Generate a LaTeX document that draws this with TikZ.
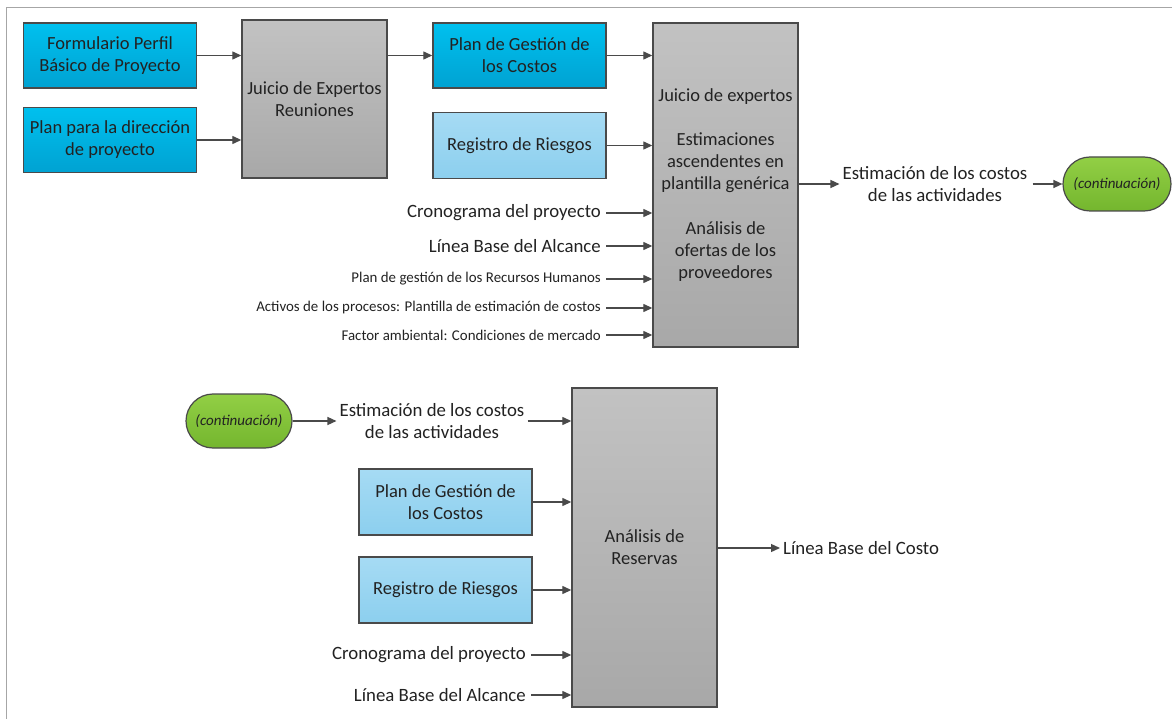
\documentclass[tikz,border=0pt]{standalone}
\usepackage{fontspec}
\setmainfont{Carlito}
\usetikzlibrary{arrows.meta,shapes.misc}

\definecolor{linegray}{HTML}{4A4A4A}
\definecolor{framegray}{HTML}{A6A6A6}
\definecolor{txt}{HTML}{222222}
\definecolor{cyantop}{HTML}{00C0EE}
\definecolor{cyanbot}{HTML}{00A2D2}
\definecolor{skytop}{HTML}{A6DBF4}
\definecolor{skybot}{HTML}{8CCFEE}
\definecolor{graytop}{HTML}{C2C2C2}
\definecolor{graybot}{HTML}{A8A8A8}
\definecolor{greentop}{HTML}{92CF45}
\definecolor{greenbot}{HTML}{74B62E}

\tikzset{
  box/.style={draw=linegray, line width=1.4pt, inner sep=0pt, align=center,
    text=txt, font=\fontsize{18.5}{22}\selectfont},
  cyanbox/.style={box, top color=cyantop, bottom color=cyanbot,
    minimum width=173pt, minimum height=65pt},
  skybox/.style={box, top color=skytop, bottom color=skybot,
    minimum width=173pt, minimum height=66pt},
  graybox/.style={box, top color=graytop, bottom color=graybot},
  contbox/.style={rounded rectangle, draw=linegray, line width=1.2pt,
    top color=greentop, bottom color=greenbot, inner sep=0pt,
    minimum height=54pt, text=txt, font=\fontsize{15}{16}\selectfont\itshape},
  biglabel/.style={anchor=east, inner sep=3pt, text=txt,
    font=\fontsize{18.8}{22}\selectfont},
  smalllabel/.style={anchor=east, inner sep=3pt, text=txt,
    font=\fontsize{14.9}{16}\selectfont},
  outlabel/.style={align=center, inner sep=3pt, text=txt,
    font=\fontsize{18.8}{22}\selectfont},
  arr/.style={draw=linegray, line width=1.3pt,
    -{Triangle[length=9pt,width=8pt]}},
}

\begin{document}
\begin{tikzpicture}[x=1pt,y=-1pt]
\useasboundingbox (0,0) rectangle (1172,719);

% outer frame (top and left edges)
\draw[framegray, line width=1.6pt] (6.5,719) -- (6.5,7.5) -- (1172,7.5);

% ---------- upper process ----------
\node[cyanbox] (form) at (110,55.5) {Formulario Perfil\\Básico de Proyecto};
\node[cyanbox] (plandir) at (110,140) {Plan para la dirección\\de proyecto};
\node[graybox, minimum width=145pt, minimum height=158pt] (juicio) at (314.5,99)
  {Juicio de Expertos\\Reuniones};
\node[cyanbox] (pgc) at (519.5,55.5) {Plan de Gestión de\\los Costos};
\node[skybox] (rr) at (519.5,145.5) {Registro de Riesgos};
\node[graybox, minimum width=145pt, minimum height=324pt,
      font=\fontsize{18.5}{22.3}\selectfont] (est) at (725.5,185)
  {Juicio de expertos\\[22pt]Estimaciones\\ascendentes en\\plantilla genérica\\[22pt]Análisis de\\ofertas de los\\proveedores};

\node[biglabel] (cron) at (604,213) {Cronograma del proyecto};
\node[biglabel] (lba) at (604,246) {Línea Base del Alcance};
\node[smalllabel] (rrhh) at (604,279) {Plan de gestión de los Recursos Humanos};
\node[smalllabel] (act) at (604,308) {Activos de los procesos: Plantilla de estimación de costos};
\node[smalllabel] (fam) at (604,335) {Factor ambiental: Condiciones de mercado};

\node[outlabel] (outA) at (935,184) {Estimación de los costos\\de las actividades};
\node[contbox, minimum width=108pt] (contA) at (1117,184) {(continuación)};

\draw[arr] (form.east) -- (form.east -| juicio.west);
\draw[arr] (plandir.east) -- (plandir.east -| juicio.west);
\draw[arr] (juicio.east |- pgc.west) -- (pgc.west);
\draw[arr] (pgc.east) -- (pgc.east -| est.west);
\draw[arr] (rr.east) -- (rr.east -| est.west);
\foreach \n in {cron,lba,rrhh,act,fam}
  \draw[arr] ([xshift=2pt]\n.east) -- (\n.east -| est.west);
\draw[arr] (est.east |- outA.west) -- (outA.west);
\draw[arr] ([xshift=2pt]outA.east) -- (contA.west);

% ---------- lower process ----------
\node[contbox, minimum width=106pt] (contB) at (239,421) {(continuación)};
\node[outlabel] (inB) at (432,421) {Estimación de los costos\\de las actividades};
\node[graybox, minimum width=145pt, minimum height=319pt] (res) at (644.5,547.5)
  {Análisis de\\Reservas};
\node[skybox] (pgcB) at (445.5,502) {Plan de Gestión de\\los Costos};
\node[skybox] (rrB) at (445.5,590) {Registro de Riesgos};
\node[biglabel] (cronB) at (529,655) {Cronograma del proyecto};
\node[biglabel] (lbaB) at (529,695) {Línea Base del Alcance};
\node[anchor=west, inner sep=3pt, text=txt, font=\fontsize{18.8}{22}\selectfont]
  (lbc) at (780,548) {Línea Base del Costo};

\draw[arr] (contB.east) -- (inB.west);
\draw[arr] (inB.east) -- (inB.east -| res.west);
\draw[arr] (pgcB.east) -- (pgcB.east -| res.west);
\draw[arr] (rrB.east) -- (rrB.east -| res.west);
\draw[arr] ([xshift=2pt]cronB.east) -- (cronB.east -| res.west);
\draw[arr] ([xshift=2pt]lbaB.east) -- (lbaB.east -| res.west);
\draw[arr] (res.east |- lbc.west) -- (lbc.west);
\end{tikzpicture}
\end{document}
